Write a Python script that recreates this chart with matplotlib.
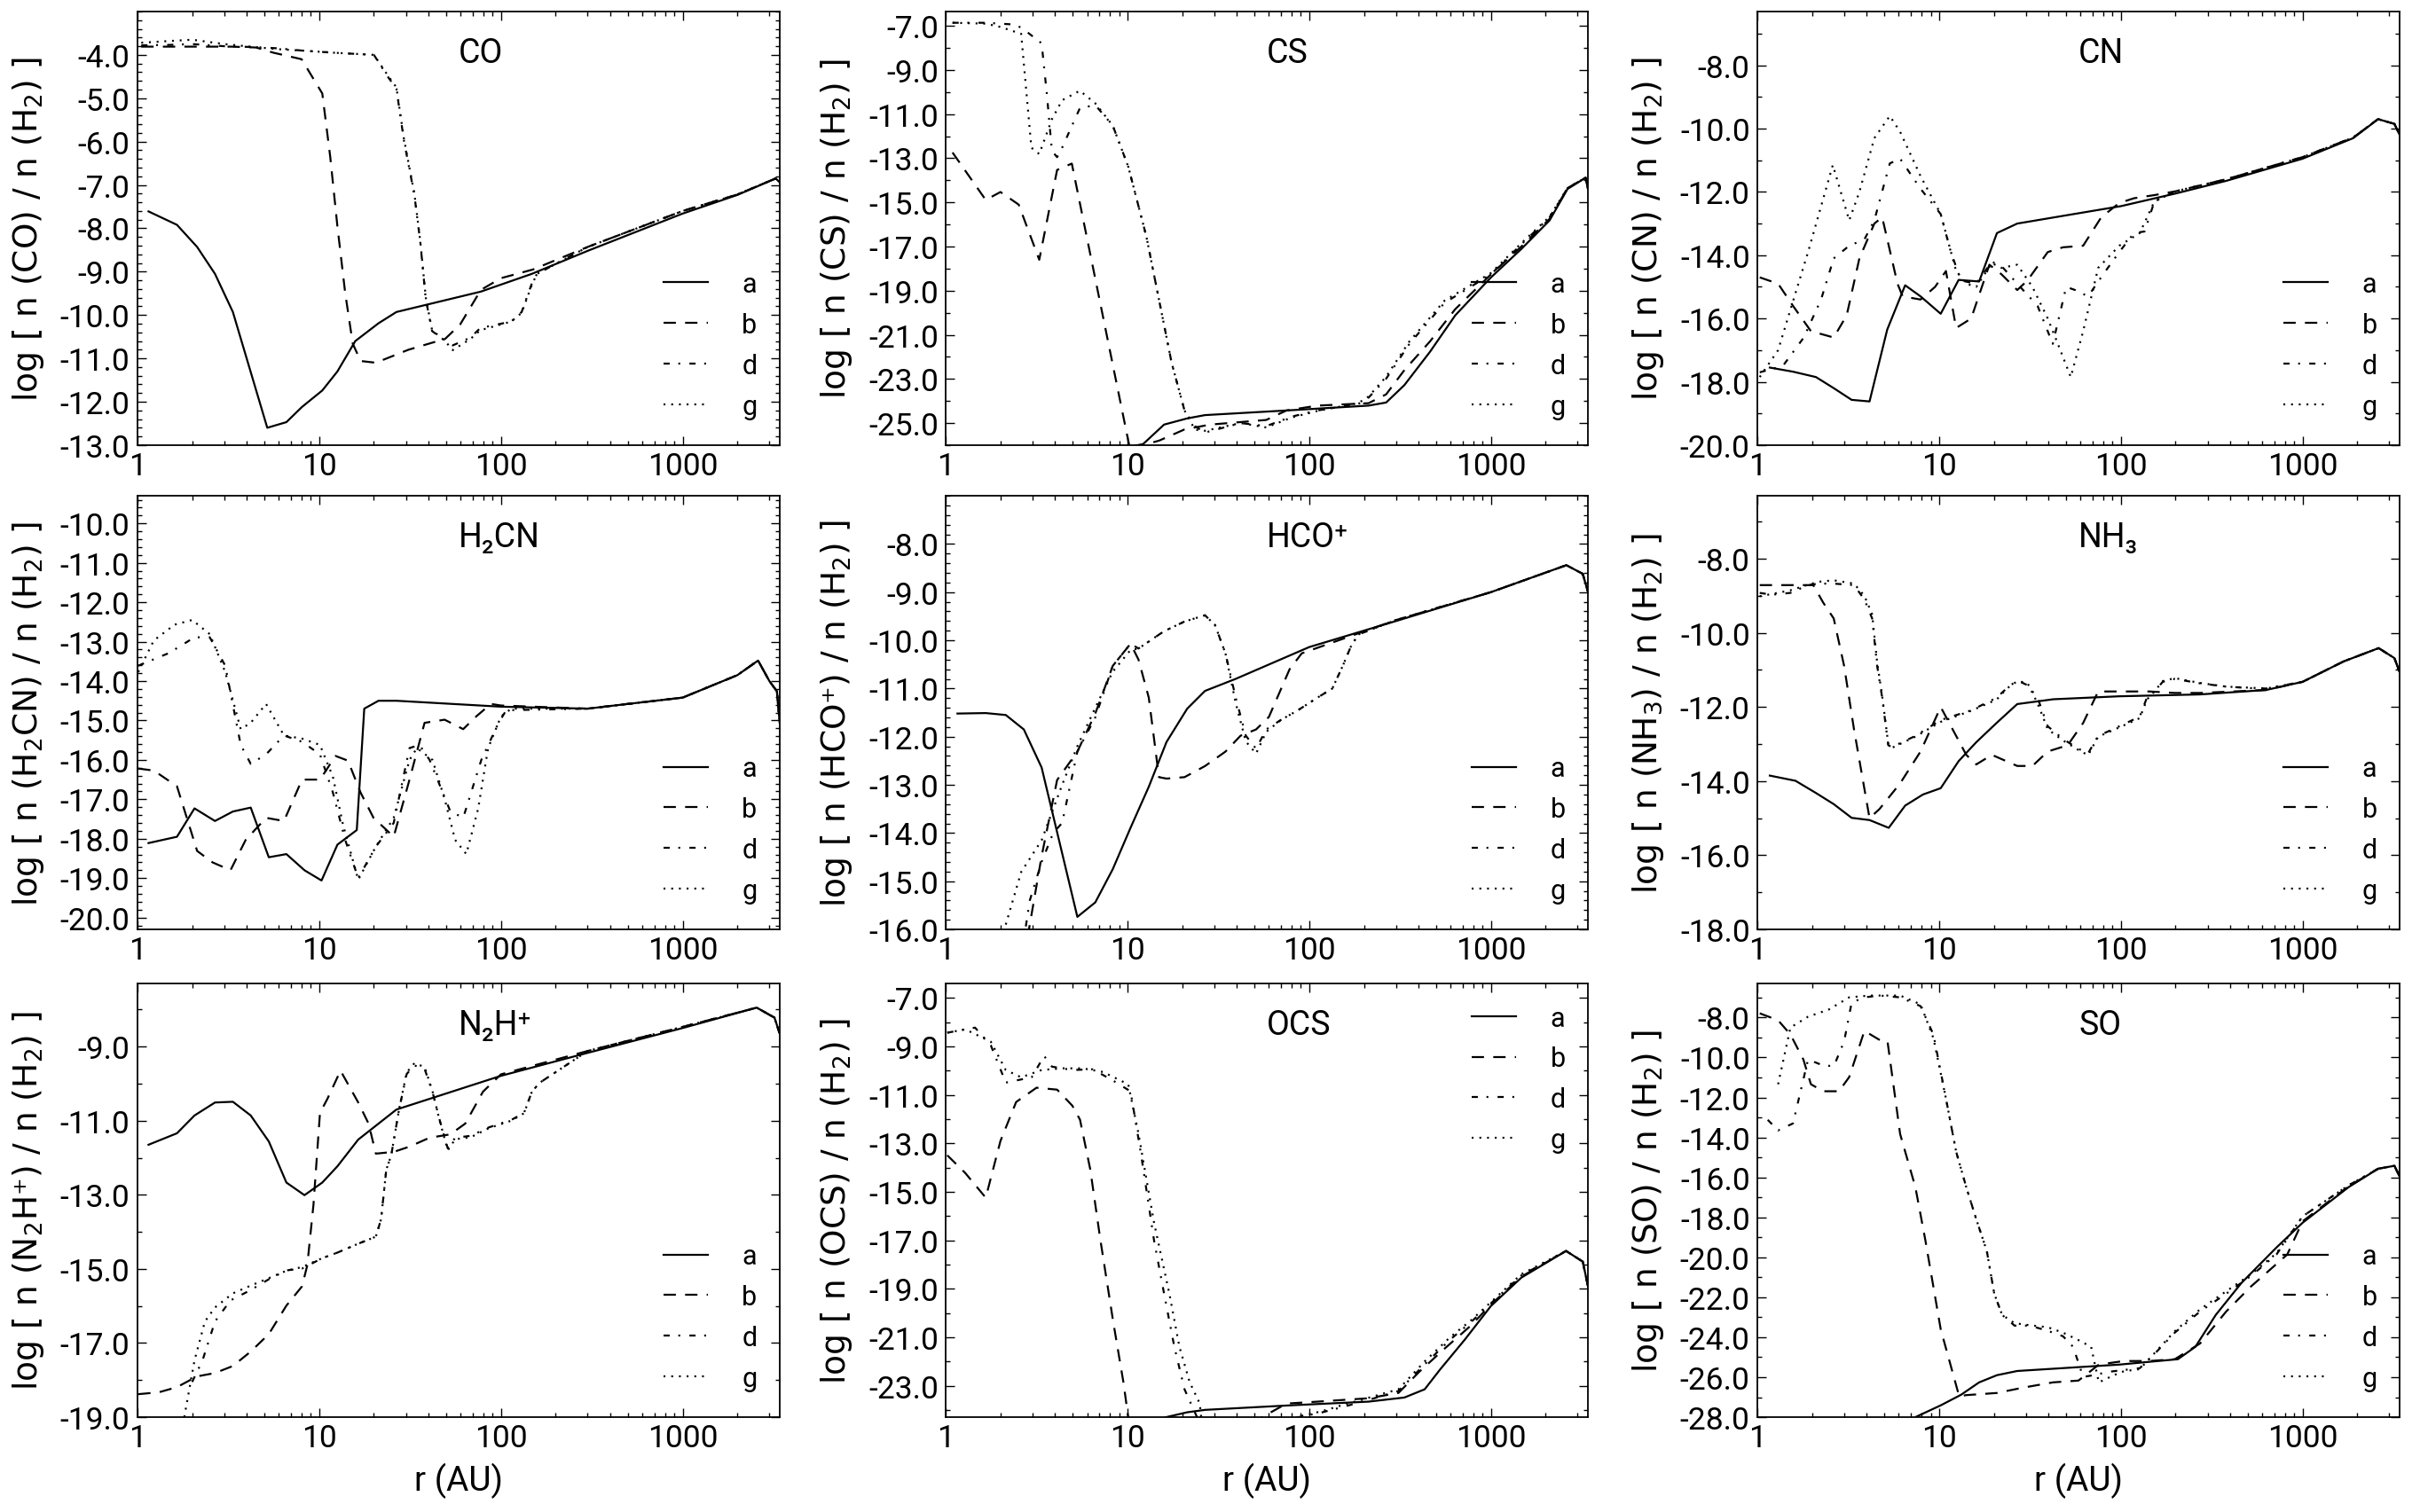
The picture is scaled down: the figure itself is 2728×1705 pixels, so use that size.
import numpy as np
import matplotlib
matplotlib.use("Agg")
import matplotlib.pyplot as plt
from matplotlib.ticker import LogLocator, NullFormatter, AutoMinorLocator, FormatStrFormatter

# ---------------- data (r in AU, log abundance) ----------------
CO_r_a = [1.15, 1.65, 2.13, 2.67, 3.35, 5.18, 6.6, 8.04, 10.4, 12.6, 15.8, 21.2, 26.6, 77.5, 148, 300, 1000, 2000, 3250, 3420]
CO_a = [-7.61, -7.92, -8.43, -9.05, -9.93, -12.6, -12.47, -12.12, -11.74, -11.3, -10.6, -10.19, -9.93, -9.46, -9.05, -8.52, -7.66, -7.23, -6.85, -6.94]
CO_r_b = [1.05, 1.5, 3.3, 4.5, 5.6, 8.0, 10.4, 11.5, 12.6, 13.9, 15.3, 16.9, 20.5, 31, 49.3, 59.6, 77.6, 100, 150, 300, 1000, 2000, 3250, 3420]
CO_b = [-3.81, -3.81, -3.81, -3.83, -3.95, -4.1, -4.89, -6.35, -7.96, -9.49, -10.66, -11.06, -11.1, -10.8, -10.55, -10.22, -9.42, -9.15, -8.95, -8.43, -7.6, -7.22, -6.85, -6.94]
CO_r_d = [1.05, 1.5, 2.0, 3.0, 4.4, 6.0, 8.0, 12.0, 20.0, 24.1, 26.6, 29.3, 33.4, 36.0, 38.6, 41.8, 49.3, 54.3, 68, 77, 114, 130, 148, 158, 300, 1000, 2000, 3250, 3420]
CO_d = [-3.78, -3.77, -3.75, -3.8, -3.82, -3.85, -3.9, -3.95, -4.0, -4.53, -4.78, -5.99, -7.23, -8.32, -9.64, -10.37, -10.59, -10.7, -10.52, -10.3, -10.15, -9.93, -9.27, -9.05, -8.43, -7.6, -7.22, -6.85, -6.94]
CO_r_g = [1.05, 1.5, 2.0, 3.0, 4.4, 6.0, 8.0, 12.0, 20.0, 24.1, 26.6, 29.3, 33.4, 36.0, 38.6, 41.8, 49.3, 54.3, 68, 77, 114, 130, 148, 158, 300, 1000, 2000, 3250, 3420]
CO_g = [-3.72, -3.68, -3.65, -3.75, -3.82, -3.87, -3.9, -3.95, -4.0, -4.5, -4.75, -5.95, -7.2, -8.3, -9.6, -10.35, -10.6, -10.81, -10.55, -10.35, -10.15, -9.95, -9.3, -9.05, -8.43, -7.6, -7.22, -6.85, -6.94]

CS_r_a = [10.0, 12.2, 15.9, 21.3, 26.7, 75, 212, 265, 334, 462, 636, 1000, 1470, 2100, 2640, 3320, 3420]
CS_a = [-26.1, -25.95, -25.07, -24.79, -24.64, -24.43, -24.21, -24.07, -23.28, -21.77, -20.12, -18.4, -17.11, -15.82, -14.39, -13.88, -14.39]
CS_r_b = [1.09, 1.66, 2.0, 2.52, 3.27, 4.1, 4.94, 10.1, 10.4, 13.5, 15.0, 20.6, 28.5, 58, 75, 111, 212, 265, 334, 462, 636, 1000, 1470, 2100, 2640, 3320, 3420]
CS_b = [-12.74, -14.89, -14.53, -15.1, -17.6, -13.53, -13.24, -25.8, -26.3, -25.9, -25.79, -25.29, -25.07, -24.86, -24.43, -24.21, -24.1, -23.7, -22.6, -21.3, -19.84, -18.26, -17.0, -15.75, -14.35, -13.88, -14.39]
CS_r_d = [1.09, 1.66, 2.29, 2.6, 3.37, 3.6, 3.84, 4.1, 4.37, 5.47, 6.65, 8.3, 10.1, 12.7, 14.9, 17.5, 20.6, 23.5, 26.7, 42, 58, 80, 111, 186, 212, 265, 356, 556, 1000, 1470, 2100, 2640, 3320, 3420]
CS_d = [-6.86, -6.86, -6.93, -7.07, -7.79, -10.08, -12.67, -12.95, -12.52, -10.73, -10.59, -11.52, -13.38, -16.54, -19.4, -22.27, -24.43, -25.14, -25.43, -25.0, -25.14, -24.71, -24.43, -24.14, -23.85, -22.99, -21.41, -19.55, -18.26, -16.9, -15.68, -14.35, -13.88, -14.39]
CS_r_g = [1.09, 1.66, 2.0, 2.6, 2.96, 3.27, 3.84, 4.37, 5.47, 6.65, 8.3, 10.1, 12.7, 14.9, 17.5, 20.6, 23.5, 26.7, 42, 58, 80, 111, 186, 212, 265, 356, 556, 1000, 1470, 2100, 2640, 3320, 3420]
CS_g = [-6.86, -6.9, -7.05, -7.36, -12.52, -12.81, -11.23, -10.37, -9.94, -10.51, -11.52, -13.38, -16.54, -19.4, -22.27, -24.43, -25.3, -25.35, -25.0, -25.2, -24.75, -24.45, -24.1, -23.8, -22.9, -21.3, -19.45, -18.2, -16.85, -15.65, -14.35, -13.88, -14.39]

CN_r_a = [1.17, 1.57, 2.1, 2.63, 3.3, 4.14, 5.18, 6.5, 7.9, 10.2, 12.8, 16.6, 20.8, 26.9, 55, 100, 200, 380, 1000, 1900, 2600, 3200, 3420]
CN_a = [-17.55, -17.68, -17.85, -18.2, -18.57, -18.62, -16.35, -14.95, -15.3, -15.85, -14.78, -14.83, -13.3, -13.0, -12.7, -12.45, -12.05, -11.65, -10.95, -10.3, -9.7, -9.85, -10.2]
CN_r_b = [1.03, 1.3, 1.57, 1.97, 2.63, 3.1, 3.64, 4.4, 4.86, 5.9, 6.3, 7.9, 9.5, 10.9, 12.4, 15.0, 18.9, 22.0, 26.9, 30.6, 39.6, 48, 62, 78, 98, 118, 153, 200, 380, 1000, 1900, 2600, 3200, 3420]
CN_b = [-14.7, -14.9, -15.6, -16.4, -16.6, -15.9, -14.1, -13.0, -12.8, -14.9, -15.3, -15.4, -15.0, -14.5, -16.3, -16.0, -14.3, -14.6, -15.1, -14.8, -13.9, -13.75, -13.7, -12.8, -12.35, -12.2, -12.1, -11.98, -11.6, -10.9, -10.28, -9.7, -9.85, -10.2]
CN_r_d = [1.03, 1.38, 1.8, 2.24, 2.63, 3.2, 3.88, 4.4, 5.35, 6.1, 7.9, 10.2, 11.6, 13.2, 16.0, 19.5, 22.5, 26.9, 34.8, 42.2, 50, 56, 66, 80, 98, 118, 135, 153, 200, 380, 1000, 1900, 2600, 3200, 3420]
CN_d = [-17.7, -17.5, -16.6, -15.4, -14.1, -13.7, -13.5, -12.9, -11.1, -10.95, -11.9, -12.7, -13.9, -14.8, -14.9, -14.2, -14.4, -14.9, -15.6, -16.8, -15.0, -15.1, -15.3, -14.6, -13.9, -13.3, -13.25, -12.3, -11.98, -11.6, -10.9, -10.28, -9.7, -9.85, -10.2]
CN_r_g = [1.03, 1.3, 1.6, 1.9, 2.6, 3.2, 3.64, 4.4, 5.35, 6.1, 7.9, 10.2, 12.4, 14.1, 16.0, 19.5, 22.0, 26.9, 32.6, 39.6, 45, 53, 62, 75, 98, 127, 153, 200, 380, 1000, 1900, 2600, 3200, 3420]
CN_g = [-17.85, -17.0, -15.3, -13.9, -11.15, -12.9, -12.0, -10.3, -9.6, -10.1, -11.5, -12.7, -14.5, -14.9, -15.0, -14.25, -14.4, -14.3, -15.0, -16.0, -16.8, -17.85, -16.4, -14.4, -13.7, -13.3, -12.3, -11.98, -11.6, -10.9, -10.28, -9.7, -9.85, -10.2]

H2CN_r_a = [1.15, 1.65, 2.06, 2.67, 3.35, 4.2, 5.28, 6.6, 8.3, 10.3, 12.6, 16.1, 17.7, 21.2, 26.6, 100, 300, 500, 1000, 2000, 2600, 3000, 3300, 3420]
H2CN_a = [-18.11, -17.95, -17.23, -17.55, -17.31, -17.21, -18.47, -18.39, -18.8, -19.06, -18.15, -17.78, -14.7, -14.5, -14.5, -14.65, -14.7, -14.58, -14.42, -13.85, -13.48, -14.0, -14.26, -15.06]
H2CN_r_b = [1.01, 1.23, 1.65, 2.13, 2.59, 3.25, 3.94, 5.1, 6.4, 8.05, 10.1, 12.3, 14.4, 16.9, 19.9, 25.7, 31.4, 38, 49, 62, 73, 88, 100, 300, 500, 1000, 2000, 2600, 3000, 3300, 3420]
H2CN_b = [-16.22, -16.27, -16.67, -18.31, -18.6, -18.8, -18.03, -17.47, -17.55, -16.5, -16.5, -15.9, -16.02, -16.83, -17.47, -17.95, -16.5, -15.06, -14.98, -15.22, -14.9, -14.58, -14.62, -14.7, -14.58, -14.42, -13.85, -13.48, -14.0, -14.26, -15.06]
H2CN_r_d = [1.01, 1.49, 2.06, 2.5, 3.04, 3.7, 4.2, 5.1, 6.4, 8.05, 10.1, 11.9, 13.9, 16.4, 20.5, 25.7, 31.4, 35.6, 40.5, 52.6, 62, 78, 97, 107, 300, 500, 1000, 2000, 2600, 3000, 3300, 3420]
H2CN_d = [-13.61, -13.29, -12.89, -12.89, -13.61, -15.62, -16.1, -15.86, -15.38, -15.54, -15.86, -16.83, -18.03, -19.0, -18.2, -17.6, -15.7, -15.62, -16.0, -17.3, -17.47, -16.0, -15.06, -14.74, -14.7, -14.58, -14.42, -13.85, -13.48, -14.0, -14.26, -15.06]
H2CN_r_g = [1.01, 1.23, 1.6, 2.0, 2.5, 3.04, 3.7, 4.2, 5.1, 6.4, 8.05, 10.1, 11.9, 13.5, 16.4, 20.5, 25.7, 31.4, 34.5, 42, 49, 56, 64.5, 75, 85, 100, 114, 300, 500, 1000, 2000, 2600, 3000, 3300, 3420]
H2CN_g = [-13.77, -12.97, -12.57, -12.45, -12.81, -13.77, -15.22, -15.06, -14.58, -15.38, -15.46, -15.62, -16.43, -17.63, -19.04, -18.2, -17.47, -16.0, -15.7, -16.0, -16.99, -18.03, -18.39, -17.23, -15.7, -14.9, -14.7, -14.7, -14.58, -14.42, -13.85, -13.48, -14.0, -14.26, -15.06]

HCO_r_a = [1.16, 1.66, 2.14, 2.69, 3.37, 5.3, 6.65, 8.3, 10.4, 13.1, 16.4, 21.3, 26.7, 39.4, 100, 300, 1000, 2600, 3200, 3420]
HCO_a = [-11.52, -11.51, -11.55, -11.85, -12.64, -15.74, -15.44, -14.75, -13.89, -13.04, -12.11, -11.42, -11.05, -10.8, -10.14, -9.6, -9.0, -8.44, -8.62, -9.0]
HCO_r_b = [2.6, 2.87, 3.37, 4.1, 5.3, 6.65, 8.3, 10.4, 11.5, 13.1, 14.9, 16.4, 20.6, 26.7, 34.6, 41.9, 51, 60, 78, 91, 300, 1000, 2600, 3200, 3420]
HCO_b = [-17.5, -16.0, -14.48, -12.9, -12.31, -11.52, -10.53, -10.07, -10.4, -11.19, -12.84, -12.87, -12.84, -12.61, -12.31, -11.98, -11.85, -11.59, -10.6, -10.27, -9.58, -9.0, -8.44, -8.62, -9.0]
HCO_r_d = [2.5, 2.9, 3.37, 3.9, 4.37, 5.3, 6.65, 8.3, 10.4, 11.5, 15.9, 20.6, 26.7, 30.3, 34.6, 39.4, 44.8, 51, 58, 70, 86, 111, 134, 153, 169, 186, 300, 1000, 2600, 3200, 3420]
HCO_d = [-17.0, -15.4, -14.6, -14.0, -13.79, -12.31, -11.6, -10.53, -10.07, -10.17, -9.81, -9.61, -9.48, -9.68, -10.27, -11.19, -11.98, -12.25, -11.85, -11.65, -11.46, -11.19, -11.0, -10.53, -10.14, -9.88, -9.58, -9.0, -8.44, -8.62, -9.0]
HCO_r_g = [2.14, 2.6, 3.37, 4.37, 5.3, 6.65, 8.3, 10.4, 11.5, 15.9, 20.6, 26.7, 30.3, 34.6, 39.4, 44.8, 51, 58, 70, 86, 111, 134, 153, 169, 186, 300, 1000, 2600, 3200, 3420]
HCO_g = [-15.9, -14.81, -14.15, -13.0, -12.2, -11.4, -10.65, -10.2, -10.17, -9.81, -9.61, -9.48, -9.68, -10.27, -11.3, -12.1, -12.35, -11.9, -11.65, -11.46, -11.19, -11.0, -10.53, -10.14, -9.88, -9.58, -9.0, -8.44, -8.62, -9.0]

NH3_r_a = [1.17, 1.62, 2.1, 2.63, 3.3, 4.14, 5.28, 6.5, 8.15, 10.2, 12.8, 16.0, 20.7, 26.9, 42.5, 98, 272, 630, 1000, 1680, 2620, 3200, 3420]
NH3_a = [-13.85, -13.99, -14.32, -14.62, -14.99, -15.05, -15.26, -14.66, -14.36, -14.19, -13.46, -12.95, -12.43, -11.92, -11.79, -11.71, -11.66, -11.54, -11.32, -10.77, -10.41, -10.68, -11.06]
NH3_r_b = [1.03, 1.47, 2.03, 2.3, 2.63, 3.0, 3.4, 4.14, 4.7, 6.1, 7.9, 10.2, 14.1, 16.0, 19.5, 26.9, 32.6, 39.6, 51, 62, 75, 104, 144, 198, 272, 630, 1000, 1680, 2620, 3200, 3420]
NH3_b = [-8.71, -8.71, -8.71, -9.18, -9.61, -10.89, -12.6, -15.0, -14.75, -14.06, -13.2, -12.0, -13.29, -13.55, -13.29, -13.59, -13.59, -13.2, -13.03, -12.43, -11.58, -11.58, -11.58, -11.62, -11.62, -11.54, -11.32, -10.77, -10.41, -10.68, -11.06]
NH3_r_d = [1.03, 1.2, 1.52, 1.9, 2.17, 2.63, 3.4, 3.88, 4.28, 4.56, 4.86, 5.25, 5.5, 7.4, 10.2, 15.0, 20.7, 23.6, 26.9, 30.6, 34.8, 39.6, 48, 58, 66, 75, 98, 127, 139, 153, 170, 198, 272, 380, 520, 630, 1000, 1680, 2620, 3200, 3420]
NH3_d = [-8.92, -8.97, -8.92, -8.71, -8.67, -8.67, -8.71, -9.1, -9.61, -10.89, -11.75, -13.03, -13.08, -12.78, -12.35, -12.09, -11.75, -11.49, -11.28, -11.41, -11.75, -12.52, -12.86, -13.12, -13.25, -12.78, -12.52, -12.26, -11.75, -11.58, -11.32, -11.24, -11.36, -11.45, -11.49, -11.5, -11.32, -10.77, -10.41, -10.68, -11.06]
NH3_r_g = [1.03, 1.2, 1.52, 1.9, 2.17, 2.63, 3.4, 3.88, 4.28, 4.56, 4.86, 5.25, 5.5, 7.4, 10.2, 15.0, 20.7, 23.6, 26.9, 30.6, 34.8, 39.6, 48, 58, 66, 75, 98, 127, 139, 153, 170, 198, 272, 380, 520, 630, 1000, 1680, 2620, 3200, 3420]
NH3_g = [-9.01, -8.95, -8.85, -8.7, -8.62, -8.58, -8.67, -9.0, -9.5, -10.8, -11.7, -13.0, -13.1, -12.8, -12.4, -12.1, -11.8, -11.5, -11.3, -11.35, -11.9, -12.6, -12.9, -13.15, -13.3, -12.8, -12.55, -12.3, -11.8, -11.58, -11.3, -11.22, -11.35, -11.45, -11.48, -11.5, -11.32, -10.77, -10.41, -10.68, -11.06]

N2H_r_a = [1.15, 1.65, 2.06, 2.67, 3.35, 4.2, 5.28, 6.6, 8.3, 10.4, 12.6, 16.4, 21.2, 26.6, 100, 300, 1000, 2555, 3200, 3420]
N2H_a = [-11.65, -11.34, -10.86, -10.51, -10.49, -10.86, -11.56, -12.67, -13.01, -12.67, -12.23, -11.51, -11.08, -10.7, -9.79, -9.17, -8.5, -7.95, -8.22, -8.65]
N2H_r_b = [1.01, 1.31, 1.65, 2.13, 2.67, 3.35, 4.2, 5.28, 6.6, 8.05, 8.6, 9.3, 10.1, 11.1, 13.1, 16.4, 18.7, 20.5, 25.8, 31.4, 40.5, 52.6, 63.6, 79.6, 100, 300, 1000, 2555, 3200, 3420]
N2H_b = [-18.38, -18.33, -18.19, -17.9, -17.81, -17.62, -17.23, -16.76, -15.99, -15.47, -14.9, -13.27, -10.79, -10.41, -9.65, -10.51, -11.08, -11.89, -11.84, -11.7, -11.46, -11.37, -11.08, -10.22, -9.75, -9.12, -8.47, -7.95, -8.22, -8.65]
N2H_r_d = [2.0, 2.28, 2.67, 3.25, 4.2, 5.28, 6.6, 8.05, 10.4, 12.6, 16.4, 20.5, 21.9, 23.4, 24.9, 27.5, 30.3, 33.4, 38, 42, 46, 51, 56, 68, 86, 114, 134, 148, 163, 300, 1000, 2555, 3200, 3420]
N2H_d = [-18.05, -17.47, -16.42, -15.85, -15.57, -15.28, -15.04, -14.99, -14.71, -14.56, -14.32, -14.13, -13.66, -12.32, -11.94, -10.7, -9.74, -9.51, -9.6, -10.22, -10.98, -11.75, -11.46, -11.41, -11.18, -10.98, -10.79, -10.22, -9.98, -9.12, -8.47, -7.95, -8.22, -8.65]
N2H_r_g = [1.81, 2.06, 2.35, 2.67, 3.35, 4.2, 5.28, 6.6, 8.05, 10.4, 12.6, 16.4, 20.5, 21.9, 23.4, 24.9, 27.5, 30.3, 33.4, 38, 42, 46, 51, 56, 68, 86, 114, 134, 148, 163, 300, 1000, 2555, 3200, 3420]
N2H_g = [-19.0, -17.47, -16.42, -16.04, -15.66, -15.45, -15.25, -15.05, -14.95, -14.71, -14.56, -14.32, -14.13, -13.66, -12.32, -11.94, -10.7, -9.7, -9.45, -9.55, -10.2, -11.0, -11.8, -11.5, -11.45, -11.2, -11.0, -10.8, -10.22, -9.98, -9.12, -8.47, -7.95, -8.22, -8.65]

OCS_r_a = [15.0, 15.9, 21.3, 26.7, 80, 212, 334, 432, 524, 718, 1000, 1470, 2590, 3200, 3420]
OCS_a = [-24.5, -24.32, -24.1, -24.0, -23.81, -23.66, -23.49, -23.15, -22.34, -21.1, -19.71, -18.54, -17.44, -17.88, -18.9]
OCS_r_b = [1.02, 1.28, 1.66, 2.0, 2.44, 3.16, 4.1, 4.97, 5.48, 6.24, 7.1, 8.35, 9.5, 10.1, 10.6, 50, 54.5, 75, 111, 212, 310, 404, 556, 778, 1000, 1470, 2590, 3200, 3420]
OCS_b = [-13.49, -14.22, -15.24, -12.9, -11.29, -10.7, -10.78, -11.44, -12.02, -14.07, -17.0, -20.37, -22.86, -24.32, -25.0, -25.0, -24.32, -23.74, -23.66, -23.52, -23.3, -22.42, -21.47, -20.51, -19.65, -18.5, -17.44, -17.88, -18.9]
OCS_r_d = [1.02, 1.28, 1.45, 1.77, 2.14, 2.97, 3.48, 3.84, 4.97, 6.44, 8.35, 10.4, 11.9, 14.0, 15.9, 18.1, 20.6, 24.2, 26, 80, 85, 118, 153, 212, 310, 432, 596, 778, 1000, 1470, 2590, 3200, 3420]
OCS_d = [-8.43, -8.29, -8.22, -8.95, -10.49, -10.27, -9.39, -9.83, -9.97, -9.94, -10.41, -10.85, -13.49, -17.0, -19.2, -21.39, -23.15, -24.32, -25.0, -25.0, -24.32, -24.1, -23.88, -23.59, -23.22, -22.12, -21.1, -20.37, -19.6, -18.45, -17.44, -17.88, -18.9]
OCS_r_g = [1.02, 1.28, 1.77, 2.14, 2.6, 3.37, 4.37, 5.66, 7.33, 10.1, 11.5, 14.0, 17.0, 19.3, 22.0, 25.0, 26, 80, 85, 118, 153, 212, 310, 432, 596, 778, 1000, 1470, 2590, 3200, 3420]
OCS_g = [-8.43, -8.29, -8.8, -9.97, -10.27, -9.97, -9.9, -9.9, -10.05, -10.56, -12.6, -16.27, -19.2, -21.39, -22.86, -23.74, -25.0, -25.0, -24.3, -24.05, -23.8, -23.5, -23.15, -22.0, -21.0, -20.3, -19.55, -18.4, -17.44, -17.88, -18.9]

SO_r_a = [7.0, 7.4, 10.2, 13.2, 16.6, 20.8, 26.9, 98, 206, 257, 333, 460, 718, 1000, 1790, 2600, 3200, 3420]
SO_a = [-28.2, -28.0, -27.41, -26.88, -26.26, -25.9, -25.69, -25.37, -25.1, -24.48, -22.88, -21.29, -19.51, -18.27, -16.49, -15.57, -15.42, -15.96]
SO_r_b = [1.03, 1.3, 1.52, 1.79, 1.97, 2.3, 2.81, 3.2, 3.88, 4.86, 5.2, 6.1, 7.4, 8.4, 10.2, 12.9, 14.0, 20.8, 28.7, 42.3, 58.4, 63.8, 75.6, 104, 144, 198, 273, 380, 520, 823, 1000, 1790, 2600, 3200, 3420]
SO_b = [-7.79, -8.14, -8.85, -10.1, -11.34, -11.69, -11.69, -10.98, -8.67, -9.2, -9.2, -13.83, -16.49, -19.15, -23.6, -26.97, -26.9, -26.79, -26.53, -26.26, -26.17, -25.9, -25.37, -25.19, -25.19, -25.1, -24.31, -22.71, -21.46, -19.86, -18.2, -16.45, -15.57, -15.42, -15.96]
SO_r_d = [1.14, 1.3, 1.57, 1.9, 2.24, 2.63, 3.0, 3.3, 3.88, 4.7, 6.1, 7.9, 9.3, 10.9, 12.4, 14.1, 16.0, 18.3, 20.1, 22.2, 26.0, 31.6, 39.6, 48, 54.6, 62, 70.6, 86, 104, 127, 153, 198, 273, 380, 520, 718, 1000, 1790, 2600, 3200, 3420]
SO_d = [-13.12, -13.65, -13.3, -10.1, -10.36, -10.45, -9.2, -7.25, -6.99, -6.9, -6.99, -7.43, -8.85, -12.05, -14.71, -16.49, -18.09, -19.69, -21.82, -22.88, -23.42, -23.42, -23.68, -23.95, -24.48, -25.99, -25.9, -25.73, -25.64, -25.55, -24.84, -23.77, -22.71, -21.82, -20.93, -19.86, -17.95, -16.4, -15.57, -15.42, -15.96]
SO_r_g = [1.3, 1.52, 1.9, 2.47, 3.2, 4.14, 6.1, 7.9, 9.3, 10.9, 12.4, 14.1, 16.0, 18.3, 20.1, 22.2, 26.0, 31.6, 39.6, 48, 58, 68.6, 75.6, 91.5, 104, 127, 153, 198, 273, 380, 520, 718, 1000, 1790, 2600, 3200, 3420]
SO_g = [-11.34, -8.5, -7.96, -7.6, -6.99, -6.9, -6.9, -7.34, -9.03, -12.05, -14.71, -16.49, -18.09, -19.69, -21.82, -22.88, -23.3, -23.4, -23.5, -23.77, -24.13, -24.48, -26.26, -25.9, -25.7, -25.6, -24.8, -23.7, -22.6, -21.7, -20.85, -19.8, -17.95, -16.4, -15.57, -15.42, -15.96]

MODELS = ['a', 'b', 'd', 'g']
TITLES = ['CO', 'CS', 'CN', 'H\u2082CN', 'HCO\u207a', 'NH\u2083', 'N\u2082H\u207a', 'OCS', 'SO']
YSPECIES = ['CO', 'CS', 'CN', 'H$_2$CN', 'HCO\u207a', 'NH$_3$', 'N$_2$H\u207a', 'OCS', 'SO']
XTICKS = [1, 10, 100, 1000]
XTICKLABELS = ['1', '10', '100', '1000']

CURVES = [
    [(CO_r_a, CO_a), (CO_r_b, CO_b), (CO_r_d, CO_d), (CO_r_g, CO_g)],
    [(CS_r_a, CS_a), (CS_r_b, CS_b), (CS_r_d, CS_d), (CS_r_g, CS_g)],
    [(CN_r_a, CN_a), (CN_r_b, CN_b), (CN_r_d, CN_d), (CN_r_g, CN_g)],
    [(H2CN_r_a, H2CN_a), (H2CN_r_b, H2CN_b), (H2CN_r_d, H2CN_d), (H2CN_r_g, H2CN_g)],
    [(HCO_r_a, HCO_a), (HCO_r_b, HCO_b), (HCO_r_d, HCO_d), (HCO_r_g, HCO_g)],
    [(NH3_r_a, NH3_a), (NH3_r_b, NH3_b), (NH3_r_d, NH3_d), (NH3_r_g, NH3_g)],
    [(N2H_r_a, N2H_a), (N2H_r_b, N2H_b), (N2H_r_d, N2H_d), (N2H_r_g, N2H_g)],
    [(OCS_r_a, OCS_a), (OCS_r_b, OCS_b), (OCS_r_d, OCS_d), (OCS_r_g, OCS_g)],
    [(SO_r_a, SO_a), (SO_r_b, SO_b), (SO_r_d, SO_d), (SO_r_g, SO_g)],
]

# axis ranges (ymin, ymax) and tick specification (first, last, step)
YLIMS = [(-13.0, -3.0), (-26.0, -6.35), (-20.0, -6.3), (-20.3, -9.3), (-16.0, -7.0),
         (-18.0, -6.3), (-19.0, -7.3), (-24.3, -6.4), (-28.0, -6.3)]
YTICKSPEC = [(-13, -4, 1), (-25, -7, 2), (-20, -8, 2), (-20, -10, 1), (-16, -8, 1),
             (-18, -8, 2), (-19, -9, 2), (-23, -7, 2), (-28, -8, 2)]

# ---------------- styling ----------------
plt.rcParams['axes.unicode_minus'] = False
plt.rcParams['lines.scale_dashes'] = False
plt.rcParams['font.family'] = ['Roboto', 'DejaVu Sans']
plt.rcParams['font.weight'] = 'normal'
plt.rcParams['mathtext.fontset'] = 'dejavusans'

LS = {
    'a': dict(linestyle='-'),
    'b': dict(linestyle=(0, (10, 7.5))),
    'd': dict(linestyle=(0, (5, 7, 1.5, 7.5))),
    'g': dict(linestyle=(0, (1.5, 4.75))),
}

fig = plt.figure(figsize=(27.28, 17.06), dpi=100)
LEFTS = [0.0568, 0.3908, 0.7262]
BOTTOMS = [0.7052, 0.3851, 0.0627]
AW, AH = 0.2654, 0.2866

for i in range(9):
    row, col = divmod(i, 3)
    ax = fig.add_axes([LEFTS[col], BOTTOMS[row], AW, AH])
    for m, (r, v) in zip(MODELS, CURVES[i]):
        ax.plot(r, v, color='black', lw=1.6, label=m, **LS[m])
    ax.set_xscale('log')
    ax.set_xlim(1, 3420)
    ax.set_ylim(*YLIMS[i])
    lo, hi, st = YTICKSPEC[i]
    ax.set_yticks(np.arange(lo, hi + 0.01, st))
    ax.yaxis.set_major_formatter(FormatStrFormatter('%.1f'))
    ax.yaxis.set_minor_locator(AutoMinorLocator(5 if st == 1 else 2))
    ax.set_xticks(XTICKS)
    ax.set_xticklabels(XTICKLABELS)
    ax.xaxis.set_minor_locator(LogLocator(base=10, subs=range(2, 10), numticks=20))
    ax.xaxis.set_minor_formatter(NullFormatter())
    ax.tick_params(which='both', direction='in', top=True, right=True, width=1.0)
    ax.tick_params(which='major', length=7, labelsize=25.5)
    ax.tick_params(axis='x', which='major', pad=5)
    ax.tick_params(axis='y', which='major', pad=6)
    ax.tick_params(which='minor', length=3.5)
    for s in ax.spines.values():
        s.set_linewidth(1.3)
    ax.set_ylabel('log [ n (%s) / n (H$_2$) ]' % YSPECIES[i], fontsize=27,
                  family='DejaVu Sans', weight='normal')
    ax.yaxis.set_label_coords(-0.142, 0.5)
    ax.text(0.5, 0.905, TITLES[i], transform=ax.transAxes, ha='left', va='center', fontsize=27)
    if i == 7:
        ax.legend(loc='upper right', bbox_to_anchor=(0.965, 0.95), frameon=False, fontsize=22,
                  handlelength=1.65, handletextpad=1.25, labelspacing=0.55,
                  borderpad=0, borderaxespad=0)
    else:
        ax.legend(loc='lower right', bbox_to_anchor=(0.965, 0.06), frameon=False, fontsize=22,
                  handlelength=1.65, handletextpad=1.25, labelspacing=0.55,
                  borderpad=0, borderaxespad=0)
    if row == 2:
        ax.set_xlabel('r (AU)', fontsize=28, labelpad=8)

fig.savefig('out.png', dpi=100)
